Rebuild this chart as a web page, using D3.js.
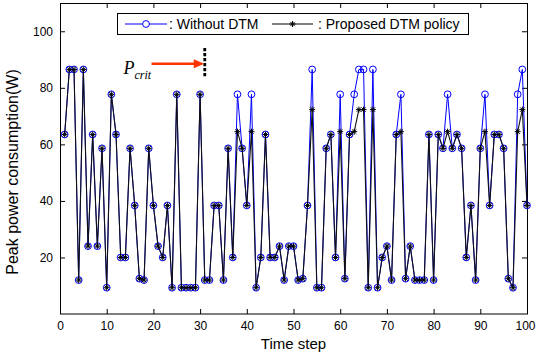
<!DOCTYPE html>
<html>
<head>
<meta charset="utf-8">
<script src="https://cdn.jsdelivr.net/npm/d3@7"></script>
<style>
  body { margin: 0; background: #fff; }
  svg { display: block; }
  text { font-family: "Liberation Sans", Arial, sans-serif; fill: #000; }
</style>
</head>
<body>
<svg id="chart" width="536" height="354"></svg>
<script>
// time steps and peak power (W)
const timeSteps = [
  1, 2, 3, 4, 5, 6, 7, 8, 9, 10, 11, 12, 13, 14, 15, 16, 17, 18, 19, 20,
  21, 22, 23, 24, 25, 26, 27, 28, 29, 30, 31, 32, 33, 34, 35, 36, 37, 38, 39, 40,
  41, 42, 43, 44, 45, 46, 47, 48, 49, 50, 51, 52, 53, 54, 55, 56, 57, 58, 59, 60,
  61, 62, 63, 64, 65, 66, 67, 68, 69, 70, 71, 72, 73, 74, 75, 76, 77, 78, 79, 80,
  81, 82, 83, 84, 85, 86, 87, 88, 89, 90, 91, 92, 93, 94, 95, 96, 97, 98, 99, 100
];
const withoutDTM = [
  63.5, 86.5, 86.5, 12, 86.5, 24, 63.5, 24, 58.6, 9.3,
  77.7, 63.5, 20, 20, 58.6, 38.4, 12.5, 12, 58.6, 38.4,
  24, 20, 38.4, 9.3, 77.7, 9.3, 9.3, 9.3, 9.3, 77.7,
  12, 12, 38.4, 38.4, 12, 58.6, 20, 77.7, 58.6, 38.4,
  77.7, 9.3, 20, 63.5, 20, 20, 24, 12, 24, 24,
  12, 12.5, 38.4, 86.5, 9.3, 9.3, 58.6, 63.5, 20, 77.7,
  12.5, 63.5, 77.7, 86.5, 86.5, 9.3, 86.5, 9.3, 20, 24,
  12, 63.5, 77.7, 12.5, 24, 12, 12, 12, 63.5, 12,
  63.5, 58.6, 77.7, 58.6, 63.5, 58.6, 20, 38.4, 12, 58.6,
  77.7, 38.4, 63.5, 63.5, 58.6, 12.5, 9.3, 77.7, 86.5, 38.4
];
const proposedDTM = [
  63.5, 86.5, 86.5, 12, 86.5, 24, 63.5, 24, 58.6, 9.3,
  77.7, 63.5, 20, 20, 58.6, 38.4, 12.5, 12, 58.6, 38.4,
  24, 20, 38.4, 9.3, 77.7, 9.3, 9.3, 9.3, 9.3, 77.7,
  12, 12, 38.4, 38.4, 12, 58.6, 20, 64.5, 58.6, 38.4,
  64.5, 9.3, 20, 63.5, 20, 20, 24, 12, 24, 24,
  12, 12.5, 38.4, 72.3, 9.3, 9.3, 58.6, 63.5, 20, 64.5,
  12.5, 63.5, 64.5, 72.3, 72.3, 9.3, 72.3, 9.3, 20, 24,
  12, 63.5, 64.5, 12.5, 24, 12, 12, 12, 63.5, 12,
  63.5, 58.6, 64.5, 58.6, 63.5, 58.6, 20, 38.4, 12, 58.6,
  64.5, 38.4, 63.5, 63.5, 58.6, 12.5, 9.3, 64.5, 72.3, 38.4
];
const seriesNames = [': Without DTM', ': Proposed DTM policy'];
const xTicks = [0, 10, 20, 30, 40, 50, 60, 70, 80, 90, 100];
const yTicks = [20, 40, 60, 80, 100];
const pcritStep = 31;      // where the critical power marker sits
const pcritLevel = 88.5;   // arrow height
const arrowStart = 19.6;

const margin = { top: 3, right: 9, bottom: 40, left: 60 };
const width = 536 - margin.left - margin.right;
const height = 354 - margin.top - margin.bottom;

const svg = d3.select('#chart');
const g = svg.append('g')
  .attr('transform', 'translate(' + margin.left + ',' + margin.top + ')');

const x = d3.scaleLinear().domain([0, 100]).range([0, width]);
const y = d3.scaleLinear().domain([0, 110]).range([height, 0]);

// axes box, MATLAB style inward ticks on all four sides
const styleAxis = (sel) => {
  sel.select('.domain').remove();
  sel.selectAll('line').attr('stroke', '#000').attr('stroke-width', 1);
  sel.selectAll('text').style('font-size', '12px').attr('fill', '#000');
};
const xAxis = g.append('g')
  .attr('transform', 'translate(0,' + height + ')')
  .call(d3.axisBottom(x).tickValues(xTicks).tickSize(-5).tickPadding(7))
  .call(styleAxis);
// last label sits at the window edge, nudge it inside
xAxis.selectAll('.tick text')
  .filter((d) => d === 100)
  .attr('dx', -2);
g.append('g')
  .call(d3.axisTop(x).tickValues(xTicks.slice(1, -1)).tickSize(-5).tickFormat(''))
  .call(styleAxis);
g.append('g')
  .call(d3.axisLeft(y).tickValues(yTicks).tickSize(-5).tickPadding(7))
  .call(styleAxis);
g.append('g')
  .attr('transform', 'translate(' + width + ',0)')
  .call(d3.axisRight(y).tickValues(yTicks).tickSize(-5).tickFormat(''))
  .call(styleAxis);
g.append('rect')
  .attr('x', 0.5).attr('y', 0.5)
  .attr('width', width).attr('height', height - 0.5)
  .attr('fill', 'none').attr('stroke', '#000').attr('stroke-width', 1);

// axis titles
svg.append('text')
  .attr('x', margin.left + width / 2)
  .attr('y', 349)
  .attr('text-anchor', 'middle')
  .style('font-size', '15px')
  .text('Time step');
svg.append('text')
  .attr('transform', 'translate(18,172) rotate(-90)')
  .attr('text-anchor', 'middle')
  .style('font-size', '16px')
  .text('Peak power consumption(W)');

const starPath = (s) => {
  const d = s * 0.7071;
  return 'M' + (-s) + ',0H' + s + 'M0,' + (-s) + 'V' + s +
    'M' + (-d) + ',' + (-d) + 'L' + d + ',' + d +
    'M' + (-d) + ',' + d + 'L' + d + ',' + (-d);
};

const line = d3.line()
  .x((d) => x(d[0]))
  .y((d) => y(d[1]));

const bluePts = timeSteps.map((t, i) => [t, withoutDTM[i]]);
const blackPts = timeSteps.map((t, i) => [t, proposedDTM[i]]);

const plot = g.append('g');
plot.append('path')
  .datum(bluePts)
  .attr('fill', 'none')
  .attr('stroke', '#0000ff')
  .attr('stroke-width', 1)
  .attr('d', line);
plot.selectAll('.circ')
  .data(bluePts)
  .enter().append('circle')
  .attr('class', 'circ')
  .attr('cx', (d) => x(d[0]))
  .attr('cy', (d) => y(d[1]))
  .attr('r', 3.4)
  .attr('fill', 'none')
  .attr('stroke', '#0000ff')
  .attr('stroke-width', 1);
plot.append('path')
  .datum(blackPts)
  .attr('fill', 'none')
  .attr('stroke', '#111')
  .attr('stroke-width', 1.1)
  .attr('d', line);
plot.selectAll('.star')
  .data(blackPts)
  .enter().append('path')
  .attr('class', 'star')
  .attr('transform', (d) => 'translate(' + x(d[0]) + ',' + y(d[1]) + ')')
  .attr('d', starPath(3))
  .attr('fill', 'none')
  .attr('stroke', '#000')
  .attr('stroke-width', 1);

// P_crit annotation
const ax = g.append('g');
ax.append('line')
  .attr('x1', x(pcritStep)).attr('x2', x(pcritStep))
  .attr('y1', y(pcritLevel + 5.6)).attr('y2', y(pcritLevel - 4.9))
  .attr('stroke', '#000')
  .attr('stroke-width', 2.8)
  .attr('stroke-dasharray', '3.3,1.7');
ax.append('line')
  .attr('x1', x(arrowStart)).attr('x2', x(pcritStep) - 8)
  .attr('y1', y(pcritLevel)).attr('y2', y(pcritLevel))
  .attr('stroke', '#ff3300')
  .attr('stroke-width', 2.6);
ax.append('path')
  .attr('d', 'M' + (x(pcritStep) - 0.5) + ',' + y(pcritLevel) +
    'L' + (x(pcritStep) - 11) + ',' + (y(pcritLevel) - 4.5) +
    'L' + (x(pcritStep) - 11) + ',' + (y(pcritLevel) + 4.5) + 'Z')
  .attr('fill', '#ff3300');
const pl = ax.append('text')
  .attr('x', x(arrowStart) - 28)
  .attr('y', y(pcritLevel) + 10)
  .style('font-family', '"Liberation Serif", "Times New Roman", serif')
  .style('font-style', 'italic')
  .style('font-size', '18px');
pl.append('tspan').text('P');
pl.append('tspan')
  .attr('dy', 5)
  .style('font-size', '12px')
  .text('crit');

// legend
const lg = svg.append('g');
lg.append('rect')
  .attr('x', 117.5).attr('y', 13.5)
  .attr('width', 351).attr('height', 21)
  .attr('fill', '#fff').attr('stroke', '#000').attr('stroke-width', 1);
const items = [
  { x0: 125, x1: 167, tx: 169, color: '#0000ff', mark: 'circle' },
  { x0: 272, x1: 313, tx: 318, color: '#000', mark: 'star' }
];
items.forEach((it, i) => {
  const ly = 24;
  lg.append('line')
    .attr('x1', it.x0).attr('x2', it.x1)
    .attr('y1', ly).attr('y2', ly)
    .attr('stroke', it.color).attr('stroke-width', 1);
  if (it.mark === 'circle') {
    lg.append('circle')
      .attr('cx', (it.x0 + it.x1) / 2).attr('cy', ly).attr('r', 3.4)
      .attr('fill', '#fff').attr('stroke', it.color).attr('stroke-width', 1);
  } else {
    lg.append('path')
      .attr('transform', 'translate(' + ((it.x0 + it.x1) / 2) + ',' + ly + ')')
      .attr('d', starPath(3))
      .attr('fill', 'none').attr('stroke', it.color).attr('stroke-width', 1);
  }
  lg.append('text')
    .attr('x', it.tx)
    .attr('y', ly + 5)
    .style('font-size', '14px')
    .text(seriesNames[i]);
});
</script>
</body>
</html>
